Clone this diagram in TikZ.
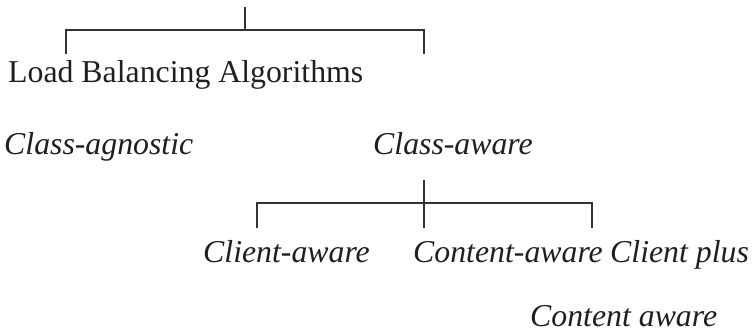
\documentclass[tikz,border=0pt]{standalone}
\usepackage{fontspec}
\setmainfont{Liberation Serif}
\usetikzlibrary{calc}

\tikzset{
  lbl/.style={anchor=base west, inner sep=0pt, text=black!88, font=\fontsize{31.8}{38}\selectfont},
  ilbl/.style={lbl, font=\fontsize{31.8}{38}\selectfont\itshape},
  branch/.style={line width=1.2pt, draw=black!80}
}

\begin{document}
\begin{tikzpicture}[x=1pt,y=-1pt]
      \useasboundingbox (0,0) rectangle (754,334);

      \node[lbl] (lba) at (8,83) {Load Balancing Algorithms};
      \node[ilbl] (agn) at (4,154) {Class-agnostic};
      \node[ilbl] (awr) at (373,154) {Class-aware};
      \node[ilbl] (cli) at (203,262) {Client-aware};
      \node[ilbl] (con) at (413,262) {Content-aware};
      \node[ilbl] (cpl) at (610,262) {Client plus};
      \node[ilbl] (cpc) at (530,326) {Content aware};

      % upper bracket
      \coordinate (top) at (245,7);
      \coordinate (topj) at (245,30);
      \coordinate (topl) at (66,30);
      \coordinate (topr) at (424,30);
      \coordinate (topld) at (66,54);
      \coordinate (toprd) at (424,54);
      \draw[branch] (top) -- (topj);
      \draw[branch] (topld) -- (topl) -- (topr) -- (toprd);

      % lower bracket
      \coordinate (mid) at (424,180);
      \coordinate (midd) at (424,228);
      \coordinate (midl) at (257,203);
      \coordinate (midr) at (592,203);
      \coordinate (midld) at (257,228);
      \coordinate (midrd) at (592,228);
      \draw[branch] (mid) -- (midd);
      \draw[branch] (midld) -- (midl) -- (midr) -- (midrd);
\end{tikzpicture}
\end{document}
